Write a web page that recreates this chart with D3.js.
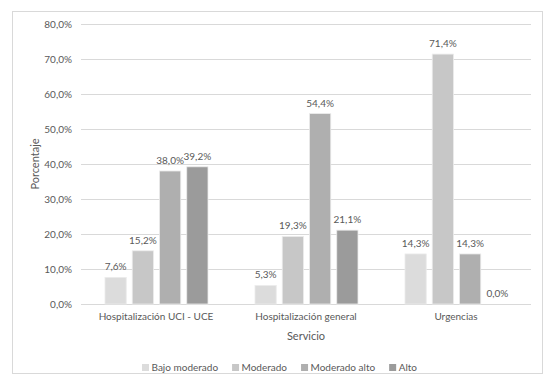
<!DOCTYPE html>
<html>
<head>
<meta charset="utf-8">
<script src="https://cdn.jsdelivr.net/npm/d3@7"></script>
<style>
  body { margin: 0; background: #fff; }
  svg text { font-family: Lato, "Open Sans", sans-serif; fill: #595959; }
</style>
</head>
<body>
<svg id="chart" width="550" height="387"></svg>
<script>
// categories and series
var servicios = ["Hospitalización UCI - UCE", "Hospitalización general", "Urgencias"];
var niveles = ["Bajo moderado", "Moderado", "Moderado alto", "Alto"];
var bajoModerado = [7.6, 5.3, 14.3];
var moderado = [15.2, 19.3, 71.4];
var moderadoAlto = [38.0, 54.4, 14.3];
var alto = [39.2, 21.1, 0.0];
var yTicks = [0, 10, 20, 30, 40, 50, 60, 70, 80];
var colores = ["#dcdcdc", "#c7c7c7", "#afafaf", "#9b9b9b"];

var serie = [bajoModerado, moderado, moderadoAlto, alto];

var svg = d3.select("#chart");

// outer frame
svg.append("rect")
  .attr("x", 12.5).attr("y", 11.5)
  .attr("width", 530).attr("height", 362)
  .attr("fill", "#fff").attr("stroke", "#d9d9d9");

var plotL = 81, plotR = 531, plotT = 24, plotB = 304;

var y = d3.scaleLinear().domain([0, 80]).range([plotB, plotT]);
var x0 = d3.scaleBand().domain(servicios).range([plotL, plotR]);
var x1 = d3.scaleBand().domain(niveles).range([24, 127]).paddingInner(0.22);

var fmt = function(v) { return v.toFixed(1).replace(".", ",") + "%"; };

// gridlines
svg.append("g").selectAll("line")
  .data(yTicks)
  .enter().append("line")
  .attr("x1", plotL).attr("x2", plotR)
  .attr("y1", function(d) { return Math.round(y(d)) + 0.5; })
  .attr("y2", function(d) { return Math.round(y(d)) + 0.5; })
  .attr("stroke", "#d9d9d9");

// y axis labels
var yAxis = d3.axisLeft(y).tickValues(yTicks).tickFormat(fmt).tickSize(0).tickPadding(9);
var gy = svg.append("g").attr("transform", "translate(" + plotL + ",0)").call(yAxis);
gy.select(".domain").remove();
gy.attr("font-family", null);
gy.selectAll("text").style("font-size", "10px").attr("fill", "#595959");

// x axis labels
var xAxis = d3.axisBottom(x0).tickSize(0).tickPadding(9);
var gx = svg.append("g").attr("transform", "translate(0," + plotB + ")").call(xAxis);
gx.select(".domain").remove();
gx.attr("font-family", null);
gx.selectAll("text").style("font-size", "10px").attr("fill", "#595959");

// bars
var grupos = svg.append("g").selectAll("g")
  .data(servicios)
  .enter().append("g")
  .attr("transform", function(d) { return "translate(" + x0(d) + ",0)"; });

grupos.selectAll("rect")
  .data(function(d, i) { return niveles.map(function(n, j) { return { nivel: n, v: serie[j][i], c: colores[j] }; }); })
  .enter().append("rect")
  .attr("x", function(d) { return x1(d.nivel); })
  .attr("y", function(d) { return y(d.v); })
  .attr("width", x1.bandwidth())
  .attr("height", function(d) { return plotB - y(d.v); })
  .attr("fill", function(d) { return d.c; })
  .attr("stroke", function(d) { return d.v > 0 ? "#ececec" : "none"; })
  .attr("stroke-width", 0.8);

grupos.selectAll("text.lbl")
  .data(function(d, i) { return niveles.map(function(n, j) { return { nivel: n, v: serie[j][i] }; }); })
  .enter().append("text")
  .attr("class", "lbl")
  .attr("x", function(d) { return x1(d.nivel) + x1.bandwidth() / 2; })
  .attr("y", function(d) { return y(d.v) - 7; })
  .attr("text-anchor", "middle")
  .style("font-size", "10px")
  .text(function(d) { return fmt(d.v); });

// axis titles
svg.append("text")
  .attr("transform", "translate(39," + ((plotT + plotB) / 2) + ") rotate(-90)")
  .attr("text-anchor", "middle")
  .style("font-size", "11px")
  .text("Porcentaje");

svg.append("text")
  .attr("x", (plotL + plotR) / 2).attr("y", 340)
  .attr("text-anchor", "middle")
  .style("font-size", "11px")
  .text("Servicio");

// legend, laid out from measured text widths
var leg = svg.append("g");
var items = leg.selectAll("g")
  .data(niveles)
  .enter().append("g");
items.append("rect").attr("y", 364).attr("width", 7).attr("height", 7)
  .attr("fill", function(d, i) { return colores[i]; });
items.append("text").attr("x", 9.5).attr("y", 371)
  .style("font-size", "10px")
  .text(function(d) { return d; });
var cx = 0;
items.each(function() {
  var w = d3.select(this).select("text").node().getComputedTextLength();
  d3.select(this).attr("transform", "translate(" + cx + ",0)");
  cx += 9.5 + w + 14;
});
var totalW = cx - 14;
leg.attr("transform", "translate(" + (279.5 - totalW / 2) + ",0)");
</script>
</body>
</html>
